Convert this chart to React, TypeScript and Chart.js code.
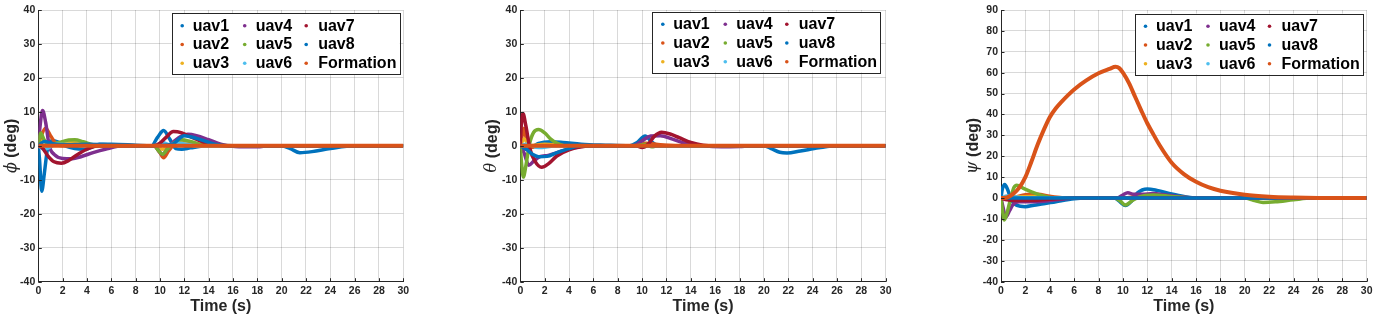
import React, { useEffect, useRef } from 'react';
import { Chart, registerables } from 'chart.js';
Chart.register(...registerables);

type P = [number, number][];

const seriesNames = ['uav1', 'uav2', 'uav3', 'uav4', 'uav5', 'uav6', 'uav7', 'uav8', 'Formation'];
const seriesColors = ['#0072BD', '#D95319', '#EDB120', '#7E2F8E', '#77AC30', '#4DBEEE', '#A2142F', '#0072BD', '#D95319'];
const xTickStep = 2;
const yTickStep = 10;

// ---------- phi (roll) ----------
const phiUav1: P = [[0, 0], [0.1, -4], [0.28, -13.4], [0.5, -8], [0.75, -1], [1.1, 1.5], [1.6, 1.2], [2.2, 0], [3, -0.8], [3.8, -1], [4.5, -0.2], [5, 0.5], [6, 0.5], [8, 0.2], [9.3, 0], [9.8, 2.5], [10.3, 4.5], [10.8, 2], [11.3, -0.8], [11.8, -1], [12.5, -0.6], [14, 0], [20, 0], [20.7, -0.8], [21.5, -2], [22.5, -1.7], [24, -0.8], [26, 0], [30, 0]];
const phiUav2: P = [[0, 0], [0.2, 2.5], [0.6, 5.2], [1, 3], [1.5, 0.5], [2, 0], [2.5, 0.5], [3.5, 0.3], [5, 0], [9.5, 0], [10, -2], [10.3, -3.5], [10.7, -1.5], [11.2, 0.5], [11.8, 1], [13, 0.3], [15, 0], [30, 0]];
const phiUav3: P = [[0, 0], [0.4, 1.5], [1, 0.5], [2.5, 1.2], [4, 0.3], [6, 0], [9.6, 0], [10.2, -1], [10.8, 0], [11.5, 1], [13, 0], [30, 0]];
const phiUav4: P = [[0, 0], [0.15, 6], [0.35, 10.4], [0.6, 7], [0.9, 0], [1.3, -2.5], [2, -3.7], [2.8, -3.8], [3.5, -3.2], [4.5, -2], [5.5, -1], [7, 0], [9.5, 0], [10.2, -2.5], [10.6, -1], [11.2, 1.5], [12.3, 3.4], [13, 3], [14, 1.8], [15, 0.5], [16.5, -0.3], [18, -0.3], [19, 0], [30, 0]];
const phiUav5: P = [[0, 0], [0.2, 3.8], [0.45, 2], [0.8, 0.3], [1.5, 0.8], [2.5, 1.7], [3, 1.8], [3.7, 1.2], [4.5, 0.3], [5.5, 0], [9.5, 0], [9.9, -1.5], [10.2, -2.5], [10.6, -1], [11.2, 1], [11.8, 1.8], [12.5, 1.3], [13.5, 0.3], [15, 0], [30, 0]];
const phiUav6: P = [[0, 0], [0.5, -1], [1.5, 0.5], [3, 0.3], [6, 0], [9.6, 0], [10.2, 1], [10.8, 0.3], [11.5, 0.8], [13, 0], [30, 0]];
const phiUav7: P = [[0, 0], [0.3, -0.5], [0.8, -3], [1.3, -4.7], [1.9, -5.1], [2.5, -4.3], [3.2, -2.6], [4, -1], [5, 0], [9.5, 0], [10, 0.8], [10.5, 2.5], [11.1, 4.2], [11.8, 3.8], [12.5, 2.7], [13.5, 1.2], [14.5, 0.3], [16, 0], [30, 0]];
const phiUav8: P = [[0, 0], [0.5, 1.3], [1, 0.8], [2, 0.3], [4, 0.5], [6, 0.3], [9, 0], [11, 0.5], [12, 3], [13, 2.2], [14.5, 0.5], [16, 0], [30, 0]];
const phiFormation: P = [[0, 0], [30, 0]];

// ---------- theta (pitch) ----------
const thetaUav1: P = [[0, 0], [0.3, -0.8], [0.6, -1], [1, -0.3], [1.5, 0.7], [2.5, 1.2], [3.5, 1], [5, 0.5], [7, 0.2], [9, 0], [9.6, 1], [10.25, 2.9], [10.7, 1.5], [11.2, 0.2], [12, 0], [20, 0], [20.6, -0.8], [21.3, -1.9], [21.9, -2.1], [23, -1.5], [24.5, -0.6], [26, 0], [30, 0]];
const thetaUav2: P = [[0, 0], [0.15, 3], [0.3, 5.2], [0.5, 2], [0.8, -0.5], [1.2, -0.3], [2, 0.3], [3, 0], [9.5, 0], [10.3, 0.8], [11.5, 0.3], [13, 0], [30, 0]];
const thetaUav3: P = [[0, 0], [0.3, 2], [0.8, 0], [2, 0.5], [4, 0], [30, 0]];
const thetaUav4: P = [[0, 0], [0.3, -2], [0.7, -5.7], [1.1, -4.5], [1.6, -3.2], [2.3, -2.8], [3, -2], [4, -0.9], [5, -0.2], [6, 0], [9.3, 0], [10, 1.5], [10.7, 2.9], [11.5, 3], [12.5, 2], [13.5, 0.8], [15, 0], [16.5, -0.3], [18, -0.2], [19, 0], [30, 0]];
const thetaUav5: P = [[0, 0], [0.1, -5], [0.25, -9.2], [0.45, -6], [0.75, 0.5], [1.1, 4], [1.5, 4.8], [2, 3.8], [2.5, 2], [3, 0.8], [3.7, 0], [9.5, 0], [10.3, 0.5], [10.8, -0.3], [11.3, 0], [30, 0]];
const thetaUav6: P = [[0, 0], [0.5, 0.5], [1.5, -0.5], [3, 0], [30, 0]];
const thetaUav7: P = [[0, 0], [0.08, 6], [0.22, 9.5], [0.45, 6], [0.8, -1], [1.2, -4.5], [1.75, -6.3], [2.3, -5.3], [3, -3], [4, -1.2], [5, -0.3], [6, 0], [9.5, 0], [10, -0.5], [10.5, 0.5], [11, 2.8], [11.6, 4], [12.3, 3.5], [13, 2.5], [14, 1], [15, 0.2], [16, 0], [30, 0]];
const thetaUav8: P = [[0, 0], [0.5, -1], [1, -2.5], [1.5, -3.2], [2.2, -3.1], [3, -2], [4, -0.8], [5, 0], [30, 0]];
const thetaFormation: P = [[0, 0], [30, 0]];

// ---------- psi (yaw) ----------
const psiUav1: P = [[0, 0], [0.1, 4], [0.3, 6.5], [0.55, 4], [0.85, -1], [1.3, -3.5], [2, -4.1], [2.7, -3.4], [3.5, -2.7], [4.5, -1.7], [6, -0.3], [7, 0], [9.3, 0], [9.8, -2], [10.2, -3.6], [10.7, -1.5], [11.2, 2.5], [12, 4.4], [12.8, 3.7], [14, 2], [15, 0.8], [16, 0], [30, 0]];
const psiUav2: P = [[0, 0], [1, 0.3], [2, 1.6], [3, 1.8], [4, 0.9], [5, 0.2], [6, 0], [10, 0], [11, 0.8], [12, 1.5], [13.5, 1], [15, 0.2], [16, 0], [30, 0]];
const psiUav3: P = [[0, 0], [1, 0.5], [2.5, 0.8], [4, 0.2], [6, 0], [30, 0]];
const psiUav4: P = [[0, 0], [0.15, -4], [0.4, -9], [0.7, -6], [1, -3], [1.5, -1.8], [2.5, -1.8], [3.5, -1.5], [5, -0.5], [6, 0], [9.5, 0], [10, 1.5], [10.4, 2.6], [10.9, 1.8], [11.6, 1.8], [12.5, 2.2], [13.5, 1.5], [15, 0.5], [16, 0], [30, 0]];
const psiUav5: P = [[0, 0], [0.1, -5], [0.27, -10.5], [0.5, -7], [0.8, 0], [1.05, 5], [1.3, 6.2], [1.8, 4.8], [2.5, 3], [3.2, 1.5], [4, 0.3], [5, 0], [9.3, 0], [9.8, -1.5], [10.2, -3.3], [10.7, -1.5], [11.3, 0.5], [12.5, 1.5], [14, 0.8], [16, 0], [20, 0], [20.7, -1], [21.5, -2.1], [22.5, -1.8], [24, -0.8], [25.5, 0], [30, 0]];
const psiUav6: P = [[0, 0], [0.5, 1], [1.5, 0.3], [3, 0], [30, 0]];
const psiUav7: P = [[0, 0], [0.5, -0.8], [1.5, -1.2], [3, -1], [5, -0.2], [6, 0], [30, 0]];
const psiUav8: P = [[0, 0], [30, 0]];
const psiFormation: P = [[0, 0], [0.5, 0.3], [1, 2], [1.5, 5], [2, 10], [2.5, 17.5], [3, 25.5], [3.5, 32.5], [4, 38.7], [4.5, 43], [5, 46.3], [5.5, 49.3], [6, 52], [7, 56.3], [8, 59.7], [8.9, 61.8], [9.4, 62.8], [9.7, 62.2], [10, 60], [10.5, 55], [11, 48.5], [11.5, 42], [12, 35.8], [12.5, 30.5], [13, 25.4], [14, 16.9], [15, 11.5], [16, 7.8], [17, 5.2], [18, 3.5], [20, 1.6], [22, 0.7], [24, 0.3], [26, 0.1], [30, 0]];

const phiSeries = [phiUav1, phiUav2, phiUav3, phiUav4, phiUav5, phiUav6, phiUav7, phiUav8, phiFormation];
const thetaSeries = [thetaUav1, thetaUav2, thetaUav3, thetaUav4, thetaUav5, thetaUav6, thetaUav7, thetaUav8, thetaFormation];
const psiSeries = [psiUav1, psiUav2, psiUav3, psiUav4, psiUav5, psiUav6, psiUav7, psiUav8, psiFormation];

const FONT = '"Liberation Sans", Arial, sans-serif';
const AXIS_COLOR = '#262626';

type PanelCfg = {
  left: number; width: number; plotLeft: number; plotRight: number;
  yMin: number; yMax: number; greek: string; titleX: number;
  legendX: number; legendY: number; series: P[];
};

const panels: PanelCfg[] = [
  { left: 0, width: 460, plotLeft: 38.3, plotRight: 403.3, yMin: -40, yMax: 40, greek: 'ϕ', titleX: 11.7, legendX: 171.7, legendY: 13, series: phiSeries },
  { left: 460, width: 460, plotLeft: 60.3, plotRight: 425.7, yMin: -40, yMax: 40, greek: 'θ', titleX: 32.3, legendX: 192.3, legendY: 11.5, series: thetaSeries },
  { left: 930, width: 462, plotLeft: 71, plotRight: 436.7, yMin: -40, yMax: 90, greek: 'ψ', titleX: 43.3, legendX: 205, legendY: 13.5, series: psiSeries },
];

const decorPlugin = {
  id: 'decor',
  afterDraw(chart: any) {
    const o = chart.options.plugins.decor;
    const ctx: CanvasRenderingContext2D = chart.ctx;
    const { left, top, bottom } = chart.chartArea;
    const xs = chart.scales.x;
    const ys = chart.scales.y;
    ctx.save();
    // inward tick marks
    ctx.strokeStyle = AXIS_COLOR;
    ctx.lineWidth = 1;
    xs.ticks.forEach((t: any) => {
      const px = Math.round(xs.getPixelForValue(t.value)) + 0.5;
      ctx.beginPath(); ctx.moveTo(px, bottom); ctx.lineTo(px, bottom - 3.5); ctx.stroke();
    });
    ys.ticks.forEach((t: any) => {
      const py = Math.round(ys.getPixelForValue(t.value)) + 0.5;
      ctx.beginPath(); ctx.moveTo(left, py); ctx.lineTo(left + 3.5, py); ctx.stroke();
    });
    // y axis title (greek italic + bold text)
    ctx.save();
    ctx.translate(o.titleX, (top + bottom) / 2);
    ctx.rotate(-Math.PI / 2);
    ctx.textBaseline = 'middle';
    ctx.fillStyle = AXIS_COLOR;
    const gFont = 'italic 16px "DejaVu Serif", serif';
    const rFont = 'bold 16px ' + FONT;
    ctx.font = gFont;
    const gw = ctx.measureText(o.greek).width;
    ctx.font = rFont;
    const rest = ' (deg)';
    const rw = ctx.measureText(rest).width;
    const sx = -(gw + rw) / 2;
    ctx.font = gFont; ctx.textAlign = 'left';
    ctx.fillText(o.greek, sx, 0);
    ctx.font = rFont;
    ctx.fillText(rest, sx + gw, 0);
    ctx.restore();
    // legend box
    const bx = o.legendX, by = o.legendY, bw = 228, bh = 61;
    ctx.fillStyle = '#ffffff';
    ctx.fillRect(bx, by, bw, bh);
    ctx.strokeStyle = AXIS_COLOR;
    ctx.lineWidth = 1;
    ctx.strokeRect(Math.round(bx) + 0.5, Math.round(by) + 0.5, bw, bh);
    const colDot = [10.5, 73, 134.5];
    const colText = [21, 84, 146.5];
    const rowY = [12.7, 31.5, 50.3];
    ctx.textBaseline = 'middle';
    ctx.textAlign = 'left';
    ctx.font = 'bold 16px ' + FONT;
    chart.data.datasets.forEach((ds: any, i: number) => {
      const c = Math.floor(i / 3), r = i % 3;
      const y = by + rowY[r];
      ctx.fillStyle = ds.borderColor;
      ctx.beginPath(); ctx.arc(bx + colDot[c], y, 1.8, 0, Math.PI * 2); ctx.fill();
      ctx.fillStyle = '#000000';
      ctx.fillText(ds.label, bx + colText[c], y + 0.5);
    });
    ctx.restore();
  },
};

function Panel({ cfg }: { cfg: PanelCfg }) {
  const ref = useRef<HTMLCanvasElement | null>(null);
  useEffect(() => {
    if (!ref.current) return;
    const datasets = cfg.series.map((pts, i) => ({
      label: seriesNames[i],
      data: pts.map(([x, y]) => ({ x, y })),
      borderColor: seriesColors[i],
      backgroundColor: seriesColors[i],
      borderWidth: i === 8 ? 4 : 3.5,
      pointRadius: 0,
      cubicInterpolationMode: 'monotone' as const,
      fill: false,
      order: 8 - i,
    }));
    const chart = new Chart(ref.current, {
      type: 'line',
      data: { datasets },
      plugins: [decorPlugin],
      options: {
        responsive: false,
        animation: false,
        devicePixelRatio: 1,
        layout: { padding: { left: 0, top: 10, right: cfg.width - cfg.plotRight, bottom: 0 } },
        plugins: {
          legend: { display: false },
          tooltip: { enabled: false },
          decor: { greek: cfg.greek, titleX: cfg.titleX, legendX: cfg.legendX, legendY: cfg.legendY },
        } as any,
        scales: {
          x: {
            type: 'linear',
            min: 0, max: 30,
            ticks: { stepSize: xTickStep, color: AXIS_COLOR, font: { family: FONT, size: 10.5, weight: 'bold' }, padding: 3, maxRotation: 0 },
            grid: { color: 'rgba(0,0,0,0.15)', lineWidth: 1, drawTicks: false },
            border: { display: true, color: AXIS_COLOR, width: 1 },
            title: { display: true, text: 'Time (s)', color: AXIS_COLOR, font: { family: FONT, size: 16, weight: 'bold' }, padding: { top: 0, bottom: 6 } },
            afterFit: (s: any) => { s.height = 40.3; },
          },
          y: {
            type: 'linear',
            min: cfg.yMin, max: cfg.yMax,
            ticks: { stepSize: yTickStep, color: AXIS_COLOR, font: { family: FONT, size: 10.5, weight: 'bold' }, padding: 3 },
            grid: { color: 'rgba(0,0,0,0.15)', lineWidth: 1, drawTicks: false },
            border: { display: true, color: AXIS_COLOR, width: 1 },
            afterFit: (s: any) => { s.width = cfg.plotLeft; },
          },
        },
      } as any,
    });
    return () => chart.destroy();
  }, [cfg]);
  return (
    <canvas
      ref={ref}
      width={cfg.width}
      height={322}
      style={{ position: 'absolute', left: cfg.left, top: 0, width: cfg.width, height: 322 }}
    />
  );
}

export default function App() {
  return (
    <div style={{ position: 'absolute', left: 0, top: 0, width: 1392, height: 322, background: '#ffffff', overflow: 'hidden' }}>
      {panels.map((p, i) => <Panel key={i} cfg={p} />)}
    </div>
  );
}
